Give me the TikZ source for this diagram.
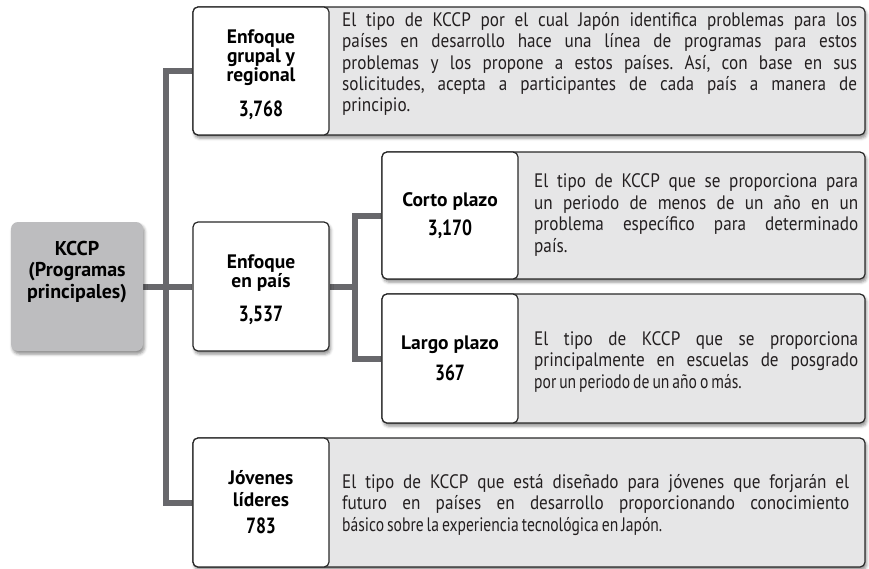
\documentclass[tikz,border=0pt]{standalone}
\usepackage{fontspec}
\setmainfont{PT Sans}
\newfontfamily\descfont{PT Sans}[FakeStretch=0.88]
\newfontfamily\tightfont{PT Sans}[FakeStretch=0.8]
\newfontfamily\numfont{PT Sans}[FakeStretch=0.8]
\usetikzlibrary{shadows.blur}
\pgfdeclarelayer{bg}
\pgfsetlayers{bg,main}
\hyphenpenalty=10000
\exhyphenpenalty=10000
\frenchspacing
\definecolor{conncol}{RGB}{104,104,108}
\definecolor{descfill}{RGB}{230,230,231}
\definecolor{rootfill}{RGB}{189,189,191}
\definecolor{edgecol}{RGB}{40,40,40}
\definecolor{txtcol}{RGB}{35,31,32}
\newcommand{\numtxt}[1]{{\numfont\bfseries\fontsize{22}{24}\selectfont #1}}
\newcommand{\tightln}[1]{{\tightfont\spaceskip=3pt\relax #1}}
\tikzset{
  conn/.style={draw=conncol, line width=6pt},
  shad/.style={blur shadow={shadow xshift=1.5pt, shadow yshift=-3pt, shadow blur radius=3pt, shadow opacity=45}},
  outerbox/.style={draw=edgecol, line width=1.2pt, rounded corners=5pt, fill=descfill, shad, inner sep=0pt},
  labbox/.style={draw=edgecol, line width=1.2pt, rounded corners=5pt, fill=white, minimum width=136pt,
     align=center, text=black, font=\fontsize{19.5}{19}\selectfont\bfseries, inner sep=0pt},
  rootbox/.style={fill=rootfill, rounded corners=7pt, shad, minimum width=132pt, minimum height=129pt, inner sep=0pt},
  roottext/.style={align=center, text=black, font=\fontsize{20}{21.5}\selectfont\bfseries, inner sep=0pt},
  desc/.style={align=justify, text=txtcol, inner sep=0pt, anchor=west,
     font=\descfont\fontsize{19.5}{21.4}\selectfont},
}
\begin{document}
\begin{tikzpicture}[x=1pt,y=-1pt]
\useasboundingbox (0,0) rectangle (869,568);
% outer description boxes
\node[outerbox, minimum width=672pt, minimum height=128pt] (g1o) at (529,71) {};
\node[outerbox, minimum width=483pt, minimum height=127pt] (c1o) at (623.5,215.5) {};
\node[outerbox, minimum width=483pt, minimum height=129pt] (l1o) at (623.5,358.5) {};
\node[outerbox, minimum width=672pt, minimum height=129pt] (j1o) at (529,502.5) {};
% label boxes
\node[labbox, minimum height=128pt] (g1) at (261,71) {\rule{0pt}{22pt}Enfoque\\grupal y\\regional\\[14pt]\numtxt{3,768}};
\node[labbox, minimum height=127pt] (corto) at (450,215.5) {Corto plazo\\[8pt]\numtxt{3,170}};
\node[labbox, minimum height=129pt] (largo) at (450,358.5) {Largo plazo\\[10pt]\numtxt{367}};
\node[labbox, minimum height=129pt] (jov) at (261,502.5) {Jóvenes\\[3pt]líderes\\[8pt]\numtxt{783}};
\node[labbox, shad, minimum height=129pt] (pais) at (261,286.5) {\rule{0pt}{20pt}Enfoque\\en país\\[13pt]\numtxt{3,537}};
\node[rootbox] (kccp) at (77,286.5) {};
\node[roottext] (kccpt) at (77,272) {KCCP\\(Programas\\principales)};
% descriptions
\node[desc, text width=515pt] (g1t) at (342,64) {El tipo de KCCP por el cual Japón identifica problemas para los\linebreak países en desarrollo hace una línea de programas para estos\linebreak problemas y los propone a estos países. Así, con base en sus\linebreak solicitudes, acepta a participantes de cada país a manera de\linebreak principio.};
\node[desc, text width=324pt] (c1t) at (534,215) {El tipo de KCCP que se proporciona para\linebreak un periodo de menos de un año en un\linebreak problema específico para determinado\linebreak país.};
\node[desc, text width=324pt] (l1t) at (534,362) {El tipo de KCCP que se proporciona\linebreak principalmente en escuelas de posgrado\linebreak \tightln{por un periodo de un año o más.}};
\node[desc, text width=507pt] (j1t) at (342,505) {El tipo de KCCP que está diseñado para jóvenes que forjarán el\linebreak futuro en países en desarrollo proporcionando conocimiento\linebreak \tightln{básico sobre la experiencia tecnológica en Japón.}};
% connectors
\coordinate (tA) at (166,286.5);
\coordinate (tB) at (355,286.5);
\begin{pgfonlayer}{bg}
\draw[conn] (g1.west) -| (tA) |- (jov.west);
\draw[conn] (kccp.east) -- (pais.west);
\draw[conn] (corto.west) -| (tB) |- (largo.west);
\draw[conn] (pais.east) -- (tB);
\end{pgfonlayer}
\end{tikzpicture}
\end{document}
